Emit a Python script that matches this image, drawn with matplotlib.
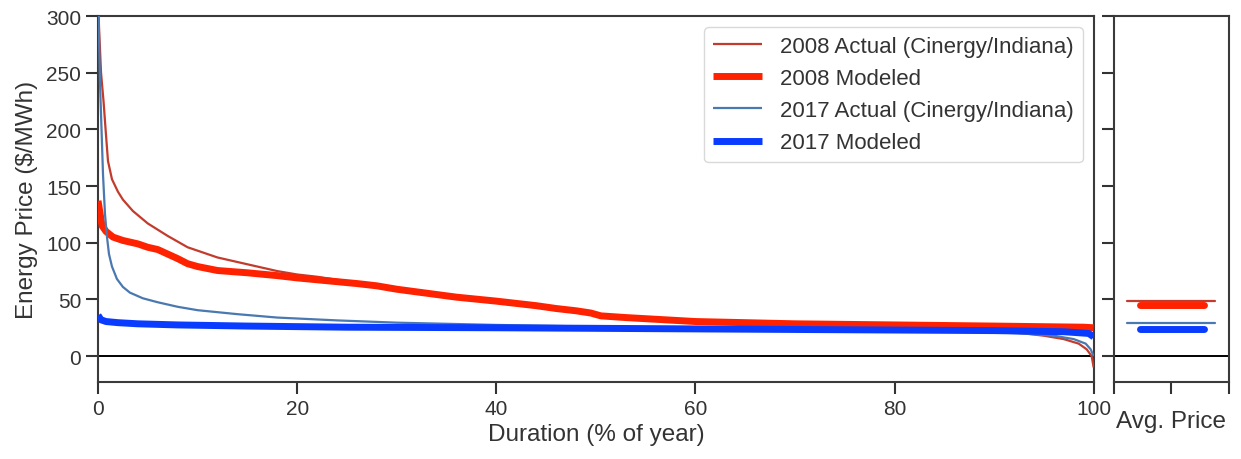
import numpy as np
import matplotlib.pyplot as plt
from matplotlib import gridspec

# price duration curves, x = % of year, y = $/MWh
act08_x = [0, 0.1, 0.3, 0.55, 0.8, 1.0, 1.4, 2.0, 2.5, 3.5, 5, 7, 9, 12, 15, 18, 20, 22, 25, 30,
           35, 40, 45, 50, 55, 60, 70, 80, 85, 90, 93, 95, 97, 98.5, 99.3, 99.8, 100]
act08_y = [320, 290, 250, 225, 195, 172, 156, 145, 138, 128, 117, 106, 96, 87, 81, 75, 72, 70, 66, 59,
           53, 47, 42, 36, 32, 30, 28, 26, 24.5, 22, 20, 18, 15, 11, 6, 0, -10]

mod08_x = [0, 0.2, 0.4, 0.8, 1.5, 2.5, 4, 5, 6, 7, 8, 9, 10, 12, 15, 18, 20, 23, 26, 28, 30, 33,
           36, 40, 44, 46, 48, 49.5, 50.5, 53, 56, 60, 65, 70, 80, 90, 99, 100]
mod08_y = [137, 126, 115, 110, 105, 102, 99, 96, 94, 90, 86, 81.5, 79, 75.5, 73.5, 71, 69, 66.5, 64, 62, 59, 55.5,
           52, 48.5, 44.5, 42, 40, 38, 35.5, 34, 32.5, 30.5, 29.5, 28.5, 27.5, 26.5, 25.5, 25]

act17_x = [0, 0.1, 0.2, 0.35, 0.5, 0.7, 0.9, 1.1, 1.4, 1.9, 2.5, 3.2, 4.5, 6, 8, 10, 14, 18, 24, 30,
           40, 50, 60, 70, 80, 88, 93, 96, 98, 99.2, 99.7, 100]
act17_y = [320, 280, 240, 200, 160, 125, 105, 90, 79, 68, 61, 56, 51, 47.5, 43.5, 40.5, 37, 34, 31.5, 29.5,
           27.5, 26, 25, 24, 23, 21.5, 20, 18, 15, 11, 6, 0]

mod17_x = [0, 0.3, 0.8, 2, 4, 8, 15, 25, 40, 60, 80, 90, 97, 99.5, 100]
mod17_y = [36, 32, 30.5, 29.5, 28.5, 27.5, 26.5, 25.5, 25, 24, 23, 22.5, 21.5, 20, 17]

# annual average prices
avg_labels = ["2008 Actual (Cinergy/Indiana)", "2008 Modeled",
              "2017 Actual (Cinergy/Indiana)", "2017 Modeled"]
avg_price = [49, 45.5, 29, 23.5]

colors = ["#c23b2c", "#ff2200", "#4a78b0", "#0a3cff"]
widths = [1.6, 5.0, 1.6, 5.0]

plt.rcParams['font.family'] = ['Liberation Sans', 'DejaVu Sans']
plt.rcParams['font.size'] = 15
plt.rcParams['axes.labelsize'] = 17.5
plt.rcParams['text.color'] = '#333333'
plt.rcParams['axes.labelcolor'] = '#333333'
plt.rcParams['xtick.color'] = '#333333'
plt.rcParams['ytick.color'] = '#333333'
plt.rcParams['axes.edgecolor'] = '#3a3a3a'
plt.rcParams['axes.linewidth'] = 1.5

fig = plt.figure(figsize=(12.41, 4.6), dpi=100)
gs = gridspec.GridSpec(1, 2, width_ratios=[996, 115], wspace=0.036,
                       left=0.079, right=0.990, top=0.963, bottom=0.167)
ax = fig.add_subplot(gs[0])
ax2 = fig.add_subplot(gs[1], sharey=ax)

series = [(act08_x, act08_y), (mod08_x, mod08_y), (act17_x, act17_y), (mod17_x, mod17_y)]
for (xs, ys), lab, c, w in zip(series, avg_labels, colors, widths):
    ax.plot(xs, ys, color=c, lw=w, label=lab, solid_capstyle='butt', zorder=3)

ax.axhline(0, color='black', lw=1.4, zorder=2)
ax.set_xlim(0, 100)
ax.set_ylim(-23, 300)
ax.set_xticks([0, 20, 40, 60, 80, 100])
ax.set_yticks([0, 50, 100, 150, 200, 250, 300])
ax.set_xlabel("Duration (% of year)", labelpad=4)
ax.set_ylabel(r"Energy Price (\$/MWh)", labelpad=6)
ax.tick_params(length=8.5, width=1.5, labelsize=15)
ax.legend(loc='upper right', fontsize=16, handlelength=2.2, labelspacing=0.5,
          edgecolor='#d9d9d9', framealpha=1)

# average price panel
spans = [(0.12, 0.88), (0.23, 0.79), (0.12, 0.88), (0.23, 0.79)]
for v, c, w, (a, b) in zip(avg_price, colors, widths, spans):
    ax2.axhline(v, xmin=a, xmax=b, color=c, lw=w, solid_capstyle='round', zorder=3)
ax2.axhline(0, color='black', lw=1.4, zorder=2)
ax2.set_xlim(0, 2)
ax2.set_xticks([0, 1, 2])
ax2.set_xticklabels([])
ax2.tick_params(labelleft=False, length=8.5, width=1.5)
ax2.set_xlabel("Avg. Price", labelpad=8)

fig.savefig("out.png", dpi=100)
